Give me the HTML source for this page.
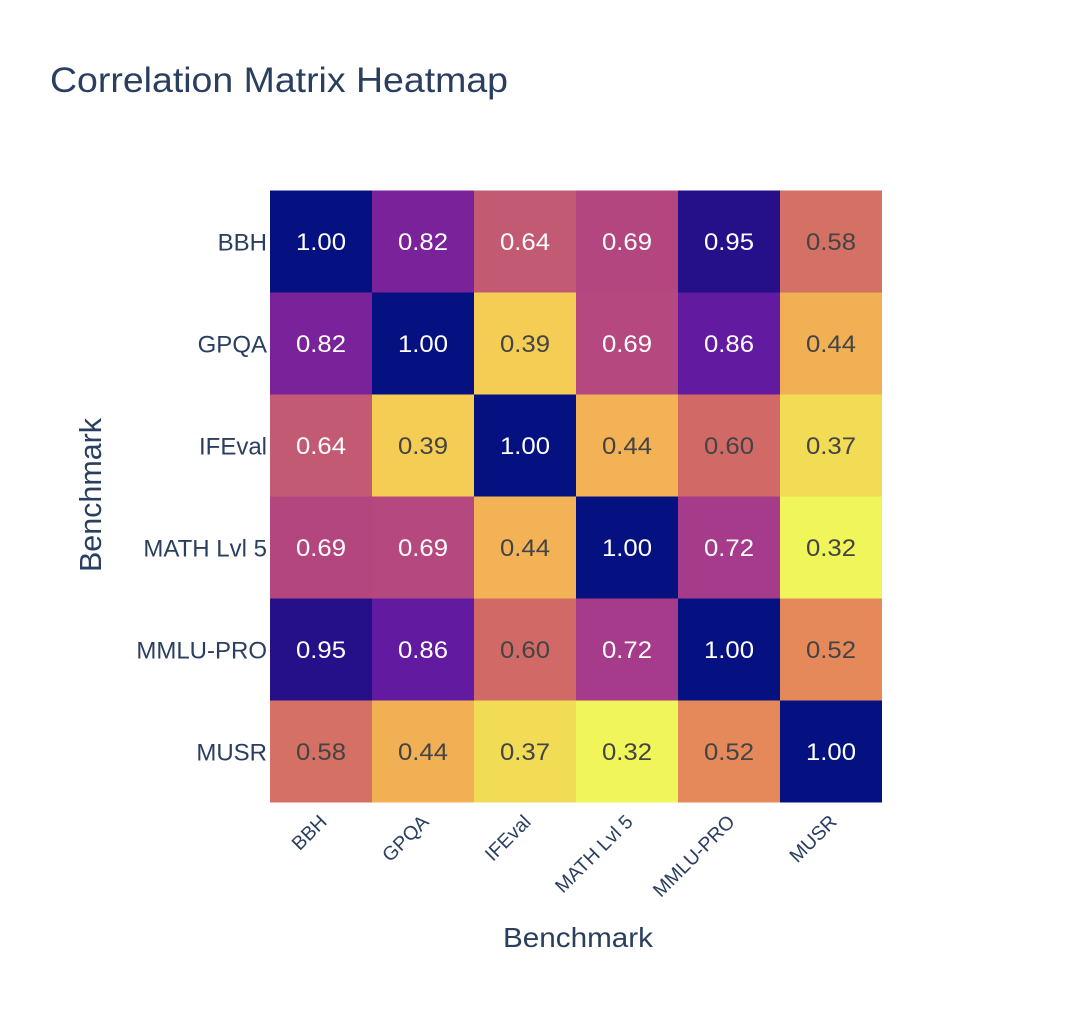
<!DOCTYPE html>
<html>
<head>
<meta charset="utf-8">
<style>
  html, body { margin: 0; padding: 0; background: #ffffff; }
  svg { display: block; }
  text { font-family: "Liberation Sans", "DejaVu Sans", sans-serif; }
</style>
</head>
<body>
<svg width="1080" height="1027" viewBox="0 0 1080 1027" xmlns="http://www.w3.org/2000/svg">
  <rect x="0" y="0" width="1080" height="1027" fill="#ffffff"/>

  <!-- Title -->
  <text x="50" y="92" font-size="35" fill="#2a3f5f" textLength="458" lengthAdjust="spacingAndGlyphs">Correlation Matrix Heatmap</text>

  <!-- Heatmap cells -->
  <g shape-rendering="crispEdges">
    <!-- Row BBH y=190.7 -->
    <rect x="270" y="190.7" width="102" height="102" fill="#051180"/>
    <rect x="372" y="190.7" width="102" height="102" fill="#7a2299"/>
    <rect x="474" y="190.7" width="102" height="102" fill="#c35a73"/>
    <rect x="576" y="190.7" width="102" height="102" fill="#b4467f"/>
    <rect x="678" y="190.7" width="102" height="102" fill="#25108a"/>
    <rect x="780" y="190.7" width="102" height="102" fill="#d57065"/>
    <!-- Row GPQA -->
    <rect x="270" y="292.7" width="102" height="102" fill="#7a2299"/>
    <rect x="372" y="292.7" width="102" height="102" fill="#051180"/>
    <rect x="474" y="292.7" width="102" height="102" fill="#f6cd54"/>
    <rect x="576" y="292.7" width="102" height="102" fill="#b4487f"/>
    <rect x="678" y="292.7" width="102" height="102" fill="#621aa0"/>
    <rect x="780" y="292.7" width="102" height="102" fill="#f2b055"/>
    <!-- Row IFEval -->
    <rect x="270" y="394.7" width="102" height="102" fill="#c35a73"/>
    <rect x="372" y="394.7" width="102" height="102" fill="#f6cd54"/>
    <rect x="474" y="394.7" width="102" height="102" fill="#051180"/>
    <rect x="576" y="394.7" width="102" height="102" fill="#f2b255"/>
    <rect x="678" y="394.7" width="102" height="102" fill="#d16a67"/>
    <rect x="780" y="394.7" width="102" height="102" fill="#f2db55"/>
    <!-- Row MATH Lvl 5 -->
    <rect x="270" y="496.7" width="102" height="102" fill="#b4467f"/>
    <rect x="372" y="496.7" width="102" height="102" fill="#b5497f"/>
    <rect x="474" y="496.7" width="102" height="102" fill="#f2b255"/>
    <rect x="576" y="496.7" width="102" height="102" fill="#051180"/>
    <rect x="678" y="496.7" width="102" height="102" fill="#a53b8a"/>
    <rect x="780" y="496.7" width="102" height="102" fill="#f0f659"/>
    <!-- Row MMLU-PRO -->
    <rect x="270" y="598.7" width="102" height="102" fill="#25108a"/>
    <rect x="372" y="598.7" width="102" height="102" fill="#621aa0"/>
    <rect x="474" y="598.7" width="102" height="102" fill="#d16a67"/>
    <rect x="576" y="598.7" width="102" height="102" fill="#a53b8a"/>
    <rect x="678" y="598.7" width="102" height="102" fill="#051180"/>
    <rect x="780" y="598.7" width="102" height="102" fill="#e5895a"/>
    <!-- Row MUSR -->
    <rect x="270" y="700.7" width="102" height="102" fill="#d57065"/>
    <rect x="372" y="700.7" width="102" height="102" fill="#f2b055"/>
    <rect x="474" y="700.7" width="102" height="102" fill="#f2db55"/>
    <rect x="576" y="700.7" width="102" height="102" fill="#f0f659"/>
    <rect x="678" y="700.7" width="102" height="102" fill="#e5895a"/>
    <rect x="780" y="700.7" width="102" height="102" fill="#051180"/>
  </g>

  <!-- Cell text -->
  <g font-size="24" text-anchor="middle">
    <!-- BBH row baseline 250 -->
    <text x="321" y="250" fill="#ffffff" textLength="50" lengthAdjust="spacingAndGlyphs">1.00</text>
    <text x="423" y="250" fill="#ffffff" textLength="50" lengthAdjust="spacingAndGlyphs">0.82</text>
    <text x="525" y="250" fill="#ffffff" textLength="50" lengthAdjust="spacingAndGlyphs">0.64</text>
    <text x="627" y="250" fill="#ffffff" textLength="50" lengthAdjust="spacingAndGlyphs">0.69</text>
    <text x="729" y="250" fill="#ffffff" textLength="50" lengthAdjust="spacingAndGlyphs">0.95</text>
    <text x="831" y="250" fill="#444444" textLength="50" lengthAdjust="spacingAndGlyphs">0.58</text>
    <!-- GPQA row -->
    <text x="321" y="352" fill="#ffffff" textLength="50" lengthAdjust="spacingAndGlyphs">0.82</text>
    <text x="423" y="352" fill="#ffffff" textLength="50" lengthAdjust="spacingAndGlyphs">1.00</text>
    <text x="525" y="352" fill="#444444" textLength="50" lengthAdjust="spacingAndGlyphs">0.39</text>
    <text x="627" y="352" fill="#ffffff" textLength="50" lengthAdjust="spacingAndGlyphs">0.69</text>
    <text x="729" y="352" fill="#ffffff" textLength="50" lengthAdjust="spacingAndGlyphs">0.86</text>
    <text x="831" y="352" fill="#444444" textLength="50" lengthAdjust="spacingAndGlyphs">0.44</text>
    <!-- IFEval row -->
    <text x="321" y="454" fill="#ffffff" textLength="50" lengthAdjust="spacingAndGlyphs">0.64</text>
    <text x="423" y="454" fill="#444444" textLength="50" lengthAdjust="spacingAndGlyphs">0.39</text>
    <text x="525" y="454" fill="#ffffff" textLength="50" lengthAdjust="spacingAndGlyphs">1.00</text>
    <text x="627" y="454" fill="#444444" textLength="50" lengthAdjust="spacingAndGlyphs">0.44</text>
    <text x="729" y="454" fill="#444444" textLength="50" lengthAdjust="spacingAndGlyphs">0.60</text>
    <text x="831" y="454" fill="#444444" textLength="50" lengthAdjust="spacingAndGlyphs">0.37</text>
    <!-- MATH row -->
    <text x="321" y="556" fill="#ffffff" textLength="50" lengthAdjust="spacingAndGlyphs">0.69</text>
    <text x="423" y="556" fill="#ffffff" textLength="50" lengthAdjust="spacingAndGlyphs">0.69</text>
    <text x="525" y="556" fill="#444444" textLength="50" lengthAdjust="spacingAndGlyphs">0.44</text>
    <text x="627" y="556" fill="#ffffff" textLength="50" lengthAdjust="spacingAndGlyphs">1.00</text>
    <text x="729" y="556" fill="#ffffff" textLength="50" lengthAdjust="spacingAndGlyphs">0.72</text>
    <text x="831" y="556" fill="#444444" textLength="50" lengthAdjust="spacingAndGlyphs">0.32</text>
    <!-- MMLU row -->
    <text x="321" y="658" fill="#ffffff" textLength="50" lengthAdjust="spacingAndGlyphs">0.95</text>
    <text x="423" y="658" fill="#ffffff" textLength="50" lengthAdjust="spacingAndGlyphs">0.86</text>
    <text x="525" y="658" fill="#444444" textLength="50" lengthAdjust="spacingAndGlyphs">0.60</text>
    <text x="627" y="658" fill="#ffffff" textLength="50" lengthAdjust="spacingAndGlyphs">0.72</text>
    <text x="729" y="658" fill="#ffffff" textLength="50" lengthAdjust="spacingAndGlyphs">1.00</text>
    <text x="831" y="658" fill="#444444" textLength="50" lengthAdjust="spacingAndGlyphs">0.52</text>
    <!-- MUSR row -->
    <text x="321" y="760" fill="#444444" textLength="50" lengthAdjust="spacingAndGlyphs">0.58</text>
    <text x="423" y="760" fill="#444444" textLength="50" lengthAdjust="spacingAndGlyphs">0.44</text>
    <text x="525" y="760" fill="#444444" textLength="50" lengthAdjust="spacingAndGlyphs">0.37</text>
    <text x="627" y="760" fill="#444444" textLength="50" lengthAdjust="spacingAndGlyphs">0.32</text>
    <text x="729" y="760" fill="#444444" textLength="50" lengthAdjust="spacingAndGlyphs">0.52</text>
    <text x="831" y="760" fill="#ffffff" textLength="50" lengthAdjust="spacingAndGlyphs">1.00</text>
  </g>

  <!-- Y tick labels -->
  <g font-size="24" fill="#2a3f5f" text-anchor="end">
    <text x="267" y="250.5">BBH</text>
    <text x="267" y="352.5">GPQA</text>
    <text x="267" y="454.5">IFEval</text>
    <text x="267" y="556.5">MATH Lvl 5</text>
    <text x="267" y="658.5">MMLU-PRO</text>
    <text x="267" y="760.5">MUSR</text>
  </g>

  <!-- X tick labels (rotated -45) -->
  <g font-size="19.5" fill="#2a3f5f" text-anchor="end">
    <text transform="translate(328,823) rotate(-45)">BBH</text>
    <text transform="translate(430,823) rotate(-45)">GPQA</text>
    <text transform="translate(532,823) rotate(-45)">IFEval</text>
    <text transform="translate(634,823) rotate(-45)">MATH Lvl 5</text>
    <text transform="translate(736,823) rotate(-45)">MMLU-PRO</text>
    <text transform="translate(838,823) rotate(-45)">MUSR</text>
  </g>

  <!-- Axis titles -->
  <text x="578" y="947" font-size="28" fill="#2a3f5f" text-anchor="middle" textLength="150" lengthAdjust="spacingAndGlyphs">Benchmark</text>
  <text transform="translate(101,495) rotate(-90)" font-size="31" fill="#2a3f5f" text-anchor="middle" textLength="154" lengthAdjust="spacingAndGlyphs">Benchmark</text>
</svg>
</body>
</html>
